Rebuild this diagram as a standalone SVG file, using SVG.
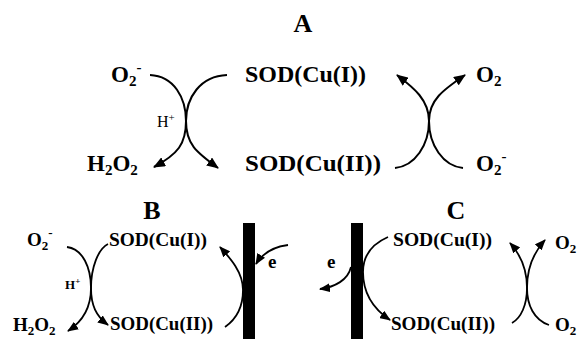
<svg xmlns="http://www.w3.org/2000/svg" width="578" height="339" viewBox="0 0 578 339">
<defs>
<style>
.t{font-family:"Liberation Serif","Times New Roman",serif;font-weight:bold;fill:#000}
.ta{font-size:23px}
.tb{font-size:19px}
.ttl{font-size:26px;text-anchor:middle}
.h{font-family:"Liberation Serif","Times New Roman",serif;fill:#000}
.c{fill:none;stroke:#000;stroke-width:2}
.cb{fill:none;stroke:#000;stroke-width:1.8}
.bar{fill:#000}
</style>
<marker id="ah" viewBox="0 0 12 10" refX="11" refY="5" markerWidth="12" markerHeight="10" markerUnits="userSpaceOnUse" orient="auto">
<path d="M0,0 L12,5 L0,10 z" fill="#000"/>
</marker>
<marker id="ahs" viewBox="0 0 11 9" refX="10" refY="4.5" markerWidth="11" markerHeight="9" markerUnits="userSpaceOnUse" orient="auto">
<path d="M0,0 L11,4.5 L0,9 z" fill="#000"/>
</marker>
</defs>

<g id="panelA">
<text class="t ttl" x="303" y="32">A</text>
<g id="A_O2minus_left"><text class="t ta" x="111" y="82">O<tspan font-size="15" dy="4">2</tspan><tspan font-size="15" dy="-14">-</tspan></text></g>
<g id="A_SODCuI"><text class="t ta" x="245" y="82" textLength="121" lengthAdjust="spacingAndGlyphs">SOD(Cu(I))</text></g>
<g id="A_O2_right"><text class="t ta" x="476" y="82">O<tspan font-size="15" dy="4">2</tspan></text></g>
<g id="A_H2O2"><text class="t ta" x="87" y="171">H<tspan font-size="15" dy="4">2</tspan><tspan dy="-4">O</tspan><tspan font-size="15" dy="4">2</tspan></text></g>
<g id="A_SODCuII"><text class="t ta" x="245" y="171" textLength="136" lengthAdjust="spacingAndGlyphs">SOD(Cu(II))</text></g>
<g id="A_O2minus_right"><text class="t ta" x="476" y="171">O<tspan font-size="15" dy="4">2</tspan><tspan font-size="15" dy="-14">-</tspan></text></g>
<g id="A_Hplus"><text class="h" font-size="16" x="157" y="127">H<tspan font-size="11" dy="-6">+</tspan></text></g>
</g>

<g id="panelB">
<text class="t ttl" x="152" y="219">B</text>
<g id="B_O2minus"><text class="t tb" x="27" y="246">O<tspan font-size="13" dy="4">2</tspan><tspan font-size="13" dy="-13">-</tspan></text></g>
<g id="B_SODCuI"><text class="t tb" x="109" y="246" textLength="98" lengthAdjust="spacingAndGlyphs">SOD(Cu(I))</text></g>
<g id="B_H2O2"><text class="t tb" x="13" y="331">H<tspan font-size="13" dy="4">2</tspan><tspan dy="-4">O</tspan><tspan font-size="13" dy="4">2</tspan></text></g>
<g id="B_SODCuII"><text class="t tb" x="110" y="330" textLength="103" lengthAdjust="spacingAndGlyphs">SOD(Cu(II))</text></g>
<g id="B_Hplus"><text class="t" font-size="13" x="65" y="289">H<tspan font-size="9" dy="-5">+</tspan></text></g>
<g id="B_bar"><rect class="bar" x="243" y="223" width="12" height="116"/></g>
<g id="B_e"><text class="t tb" x="268" y="268">e</text></g>
</g>

<g id="panelC">
<text class="t ttl" x="456" y="219">C</text>
<g id="C_SODCuI"><text class="t tb" x="393" y="246" textLength="99" lengthAdjust="spacingAndGlyphs">SOD(Cu(I))</text></g>
<g id="C_SODCuII"><text class="t tb" x="391" y="330" textLength="104" lengthAdjust="spacingAndGlyphs">SOD(Cu(II))</text></g>
<g id="C_O2_top"><text class="t tb" x="555" y="249">O<tspan font-size="13" dy="4">2</tspan></text></g>
<g id="C_O2_bottom"><text class="t tb" x="555" y="331">O<tspan font-size="13" dy="4">2</tspan></text></g>
<g id="C_bar"><rect class="bar" x="351" y="223" width="12" height="116"/></g>
<g id="C_e"><text class="t tb" x="327" y="268">e</text></g>
</g>

<g id="connectors">
<path class="c" marker-end="url(#ah)" d="M150,75 C174,76 186,98 186,121 C186,144 178,154 154,167"/>
<path class="c" marker-end="url(#ah)" d="M227,75 C200,76 186,98 186,121 C186,144 196,152 218,168"/>
<path class="c" marker-end="url(#ah)" d="M395,168 C415,166 429,145 429,121 C429,100 414,88 397,75"/>
<path class="c" marker-end="url(#ah)" d="M463,168 C443,166 429,145 429,121 C429,100 443,90 465,75"/>

<path class="cb" marker-end="url(#ahs)" d="M67,247 C83,249 91,268 91,288 C91,305 85,320 68,331"/>
<path class="cb" marker-end="url(#ahs)" d="M108,244 C98,249 91,268 91,288 C91,305 96,316 108,325"/>
<path class="cb" marker-end="url(#ahs)" d="M225,327 C238,318 243,305 243,290 C243,272 230,258 220,247"/>
<path class="cb" marker-end="url(#ahs)" d="M288,245 C272,247 262,254 256,264"/>

<path class="cb" marker-end="url(#ahs)" d="M388,237 C372,244 363,256 363,272 C363,295 375,310 390,320"/>
<path class="cb" marker-end="url(#ahs)" d="M351,267 C348,280 335,287 320,289"/>
<path class="cb" marker-end="url(#ahs)" d="M512,323 C521,318 527,305 527,288 C527,270 520,254 510,243"/>
<path class="cb" marker-end="url(#ahs)" d="M549,325 C534,320 527,305 527,288 C527,268 534,252 545,240"/>
</g>
</svg>
